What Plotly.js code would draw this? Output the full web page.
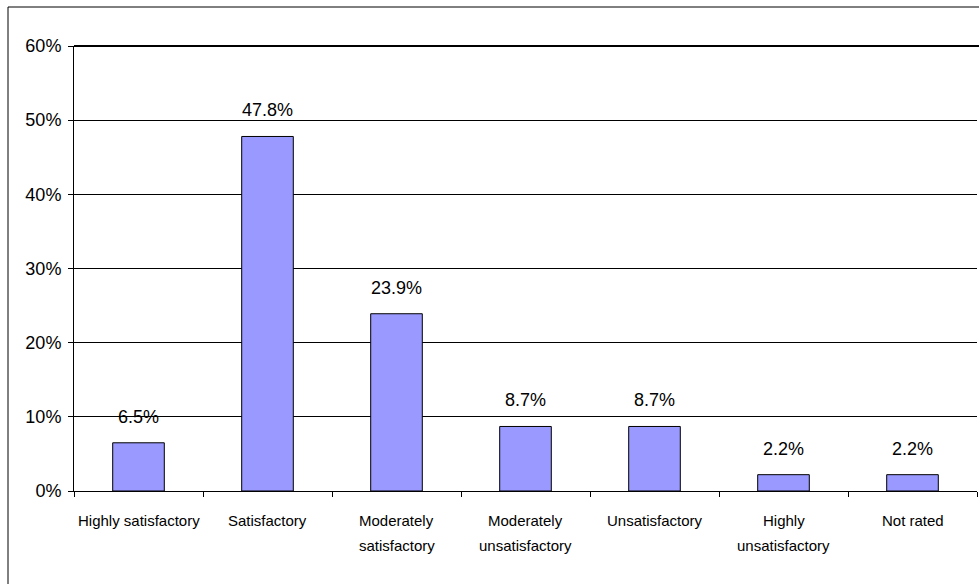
<!DOCTYPE html>
<html>
<head>
<meta charset="utf-8">
<script src="https://cdn.plot.ly/plotly-3.0.1.min.js"></script>
<style>
  html, body { margin: 0; padding: 0; background: #fff; }
  #chart { width: 979px; height: 584px; }
</style>
</head>
<body>
<div id="chart"></div>
<script>
const categories = [
  "Highly satisfactory",
  "Satisfactory",
  "Moderately<br>satisfactory",
  "Moderately<br>unsatisfactory",
  "Unsatisfactory",
  "Highly<br>unsatisfactory",
  "Not rated"
];
const values = [6.5, 47.8, 23.9, 8.7, 8.7, 2.2, 2.2];
const valueLabels = ["6.5%", "47.8%", "23.9%", "8.7%", "8.7%", "2.2%", "2.2%"];
const yTickVals = [0, 10, 20, 30, 40, 50, 60];
const yTickText = ["0%", "10%", "20%", "30%", "40%", "50%", "60%"];

const FONT = '"Liberation Sans", Arial, sans-serif';

const trace = {
  type: 'bar',
  x: categories,
  y: values,
  marker: { color: '#9999FF', line: { color: '#000000', width: 1 } },
  hoverinfo: 'none'
};

// value labels above the bars
const annotations = categories.map((c, i) => ({
  x: c, y: values[i], xref: 'x', yref: 'y',
  text: valueLabels[i], showarrow: false,
  yanchor: 'bottom', yshift: 14,
  font: { family: FONT, size: 18, color: '#000' }
}));

// category labels below the axis (one annotation per line for wider line spacing)
categories.forEach((c) => {
  c.split('<br>').forEach((line, k) => {
    annotations.push({
      x: c, y: 0, xref: 'x', yref: 'paper',
      text: line, showarrow: false,
      yanchor: 'top', yshift: -19 - 25 * k,
      font: { family: FONT, size: 15, color: '#000' }
    });
  });
});

const layout = {
  width: 979, height: 584,
  margin: { l: 74, r: 2, t: 46, b: 93 },
  paper_bgcolor: '#fff', plot_bgcolor: '#fff',
  showlegend: false,
  bargap: 0.6,
  font: { family: FONT, size: 15, color: '#000' },
  xaxis: {
    type: 'category',
    tickson: 'boundaries',
    tickangle: 0,
    ticks: 'outside', ticklen: 5, tickcolor: '#000', tickwidth: 1,
    showline: true, linecolor: '#000', linewidth: 1,
    showgrid: false, zeroline: false,
    showticklabels: false
  },
  yaxis: {
    range: [0, 60],
    tickvals: yTickVals, ticktext: yTickText,
    ticks: 'outside', ticklen: 5, tickcolor: '#000', tickwidth: 1,
    showline: true, linecolor: '#000', linewidth: 1,
    showgrid: true, gridcolor: '#000', gridwidth: 1,
    zeroline: false,
    ticklabelstandoff: 3,
    tickfont: { family: FONT, size: 18, color: '#000' }
  },
  annotations: annotations,
  shapes: [
    { type: 'line', xref: 'paper', yref: 'paper',
      x0: -66/903, x1: -66/903, y0: 484/445, y1: -100/445,
      line: { color: '#000', width: 1 } },
    { type: 'line', xref: 'paper', yref: 'paper',
      x0: -66/903, x1: 1.01, y0: 484/445, y1: 484/445,
      line: { color: '#000', width: 1 } },
    { type: 'line', xref: 'paper', yref: 'paper',
      x0: 0, x1: 1.01, y0: 1, y1: 1,
      line: { color: '#000', width: 2 } }
  ]
};

Plotly.newPlot('chart', [trace], layout, { staticPlot: true, displayModeBar: false });
</script>
</body>
</html>
